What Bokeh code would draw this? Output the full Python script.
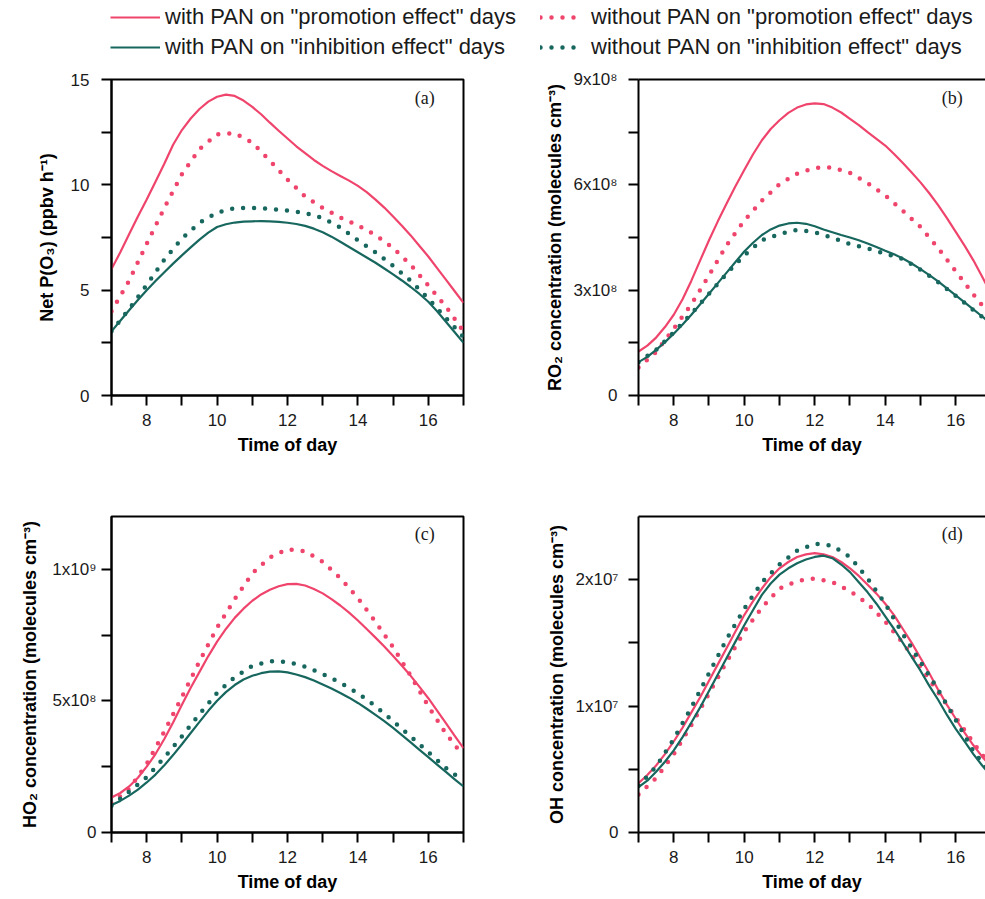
from bokeh.plotting import figure
from bokeh.models import Range1d, FixedTicker, LinearAxis, Label, Legend, LegendItem
from bokeh.layouts import column, row
from bokeh.core.properties import value
from bokeh.embed import file_html
from bokeh.resources import INLINE

# ---------------- data ----------------
# solid curves are read every quarter hour, dotted curves every half hour
hours_fine = [7.0, 7.25, 7.5, 7.75, 8.0, 8.25, 8.5, 8.75, 9.0, 9.25, 9.5, 9.75, 10.0, 10.25,
              10.5, 10.75, 11.0, 11.25, 11.5, 11.75, 12.0, 12.25, 12.5, 12.75, 13.0, 13.25,
              13.5, 13.75, 14.0, 14.25, 14.5, 14.75, 15.0, 15.25, 15.5, 15.75, 16.0, 16.25,
              16.5, 16.75, 17.0]
hours = [7.0, 7.5, 8.0, 8.5, 9.0, 9.5, 10.0, 10.5, 11.0, 11.5, 12.0,
         12.5, 13.0, 13.5, 14.0, 14.5, 15.0, 15.5, 16.0, 16.5, 17.0]

series_labels = ['with PAN on "promotion effect" days',
                 'without PAN on "promotion effect" days',
                 'with PAN on "inhibition effect" days',
                 'without PAN on "inhibition effect" days']

# (a) Net P(O3), ppbv h-1
po3_pan_promo = [6.0, 6.8, 7.65, 8.5, 9.3, 10.15, 11.0, 11.9, 12.6, 13.15, 13.6, 13.95, 14.18, 14.28,
                 14.22, 14.0, 13.7, 13.35, 12.95, 12.57, 12.2, 11.83, 11.5, 11.18, 10.9, 10.65,
                 10.42, 10.2, 9.95, 9.65, 9.3, 8.92, 8.5, 8.06, 7.6, 7.1, 6.6, 6.05, 5.5, 4.95, 4.4]
po3_nopan_promo = [4.0, 5.45, 7.2, 8.9, 10.5, 11.7, 12.4, 12.45, 12.0, 11.15, 10.25,
                   9.45, 8.9, 8.45, 8.08, 7.62, 7.0, 6.2, 5.22, 4.22, 3.05]
po3_pan_inhib = [3.05, 3.55, 4.05, 4.53, 5.0, 5.43, 5.85, 6.26, 6.65, 7.03, 7.4, 7.73, 8.0, 8.13,
                 8.21, 8.25, 8.27, 8.28, 8.27, 8.24, 8.2, 8.14, 8.05, 7.92, 7.75, 7.54,
                 7.3, 7.05, 6.8, 6.55, 6.3, 6.03, 5.75, 5.46, 5.15, 4.82, 4.45, 4.0, 3.5, 3.0, 2.5]
po3_nopan_inhib = [3.05, 4.1, 5.25, 6.45, 7.45, 8.2, 8.68, 8.9, 8.91, 8.86, 8.78,
                   8.67, 8.42, 7.98, 7.37, 6.8, 6.15, 5.45, 4.6, 3.68, 2.78]

# (b) RO2, molecules cm-3
ro2_pan_promo = [1.25e8, 1.42e8, 1.65e8, 1.95e8, 2.3e8, 2.74e8, 3.27e8, 3.85e8, 4.42e8, 4.96e8,
                 5.47e8, 5.96e8, 6.42e8, 6.87e8, 7.27e8, 7.59e8, 7.84e8, 8.05e8, 8.2e8, 8.29e8,
                 8.32e8, 8.3e8, 8.2e8, 8.06e8, 7.88e8, 7.7e8, 7.5e8, 7.31e8, 7.12e8, 6.88e8,
                 6.62e8, 6.35e8, 6.07e8, 5.76e8, 5.42e8, 5.05e8, 4.66e8, 4.27e8, 3.85e8, 3.38e8, 2.9e8]
ro2_nopan_promo = [0.8e8, 1.24e8, 1.9e8, 2.6e8, 3.42e8, 4.28e8, 4.98e8, 5.55e8, 6.02e8, 6.32e8, 6.48e8,
                   6.5e8, 6.34e8, 6.05e8, 5.7e8, 5.26e8, 4.8e8, 4.2e8, 3.54e8, 2.88e8, 2.25e8]
ro2_pan_inhib = [0.95e8, 1.1e8, 1.3e8, 1.52e8, 1.76e8, 2.02e8, 2.3e8, 2.6e8, 2.9e8, 3.2e8,
                 3.5e8, 3.8e8, 4.1e8, 4.35e8, 4.57e8, 4.73e8, 4.84e8, 4.9e8, 4.92e8, 4.89e8,
                 4.82e8, 4.73e8, 4.65e8, 4.57e8, 4.5e8, 4.42e8, 4.33e8, 4.23e8, 4.12e8, 4.02e8,
                 3.9e8, 3.76e8, 3.6e8, 3.43e8, 3.25e8, 3.05e8, 2.85e8, 2.65e8, 2.45e8, 2.25e8, 2.05e8]
ro2_nopan_inhib = [0.95e8, 1.3e8, 1.8e8, 2.33e8, 2.9e8, 3.47e8, 3.99e8, 4.42e8, 4.6e8, 4.72e8, 4.65e8,
                   4.49e8, 4.31e8, 4.19e8, 4.04e8, 3.89e8, 3.58e8, 3.23e8, 2.84e8, 2.43e8, 2.05e8]

# (c) HO2, molecules cm-3
ho2_pan_promo = [1.33e8, 1.5e8, 1.75e8, 2.08e8, 2.5e8, 2.98e8, 3.55e8, 4.18e8, 4.85e8, 5.5e8,
                 6.1e8, 6.7e8, 7.25e8, 7.73e8, 8.15e8, 8.5e8, 8.8e8, 9.04e8, 9.22e8, 9.35e8,
                 9.43e8, 9.44e8, 9.38e8, 9.25e8, 9.08e8, 8.86e8, 8.62e8, 8.35e8, 8.05e8, 7.73e8,
                 7.4e8, 7.06e8, 6.7e8, 6.33e8, 5.95e8, 5.53e8, 5.1e8, 4.63e8, 4.15e8, 3.67e8, 3.2e8]
ho2_nopan_promo = [1.1e8, 1.65e8, 2.6e8, 3.83e8, 5.15e8, 6.5e8, 7.78e8, 8.86e8, 9.84e8, 10.45e8, 10.76e8,
                   10.68e8, 10.28e8, 9.66e8, 8.9e8, 8.0e8, 7.04e8, 5.95e8, 4.8e8, 3.76e8, 2.9e8]
ho2_pan_inhib = [1.04e8, 1.2e8, 1.4e8, 1.63e8, 1.9e8, 2.2e8, 2.55e8, 2.94e8, 3.35e8, 3.78e8,
                 4.2e8, 4.62e8, 5.0e8, 5.33e8, 5.6e8, 5.81e8, 5.95e8, 6.05e8, 6.11e8, 6.12e8,
                 6.08e8, 6.0e8, 5.9e8, 5.77e8, 5.62e8, 5.47e8, 5.3e8, 5.12e8, 4.92e8, 4.7e8,
                 4.47e8, 4.23e8, 3.97e8, 3.7e8, 3.42e8, 3.14e8, 2.86e8, 2.58e8, 2.3e8, 2.02e8, 1.75e8]
ho2_nopan_inhib = [1.02e8, 1.55e8, 2.1e8, 2.85e8, 3.65e8, 4.5e8, 5.3e8, 5.9e8, 6.33e8, 6.51e8, 6.48e8,
                   6.3e8, 6.02e8, 5.69e8, 5.29e8, 4.8e8, 4.23e8, 3.65e8, 3.05e8, 2.45e8, 1.95e8]

# (d) OH, molecules cm-3
oh_pan_promo = [0.39e7, 0.455e7, 0.53e7, 0.62e7, 0.72e7, 0.83e7, 0.95e7, 1.07e7, 1.2e7, 1.33e7,
                1.46e7, 1.59e7, 1.72e7, 1.83e7, 1.93e7, 2.02e7, 2.09e7, 2.14e7, 2.18e7, 2.2e7,
                2.21e7, 2.2e7, 2.18e7, 2.14e7, 2.09e7, 2.03e7, 1.96e7, 1.89e7, 1.81e7, 1.72e7,
                1.61e7, 1.5e7, 1.38e7, 1.26e7, 1.13e7, 1.01e7, 0.9e7, 0.79e7, 0.69e7, 0.6e7, 0.52e7]
oh_nopan_promo = [0.3e7, 0.43e7, 0.62e7, 0.85e7, 1.1e7, 1.35e7, 1.59e7, 1.78e7, 1.93e7, 1.99e7, 2.01e7,
                  1.98e7, 1.91e7, 1.81e7, 1.67e7, 1.5e7, 1.31e7, 1.11e7, 0.91e7, 0.71e7, 0.52e7]
oh_pan_inhib = [0.36e7, 0.41e7, 0.48e7, 0.56e7, 0.65e7, 0.755e7, 0.87e7, 0.99e7, 1.12e7, 1.25e7,
                1.38e7, 1.51e7, 1.64e7, 1.76e7, 1.88e7, 1.97e7, 2.04e7, 2.09e7, 2.13e7, 2.16e7,
                2.18e7, 2.19e7, 2.17e7, 2.12e7, 2.06e7, 1.98e7, 1.9e7, 1.81e7, 1.71e7, 1.61e7,
                1.5e7, 1.39e7, 1.28e7, 1.16e7, 1.05e7, 0.93e7, 0.82e7, 0.72e7, 0.62e7, 0.53e7, 0.45e7]
oh_nopan_inhib = [0.37e7, 0.52e7, 0.74e7, 0.99e7, 1.26e7, 1.53e7, 1.77e7, 1.98e7, 2.12e7, 2.23e7, 2.285e7,
                  2.27e7, 2.18e7, 2.01e7, 1.81e7, 1.57e7, 1.35e7, 1.13e7, 0.89e7, 0.645e7, 0.46e7]

x_major = [8, 10, 12, 14, 16]
x_minor = [7, 9, 11, 13, 15, 17]

a_major = [0, 5, 10, 15]
a_minor = [2.5, 7.5, 12.5]
b_major = [0, 300000000, 600000000, 900000000]
b_minor = [150000000, 450000000, 750000000]
b_labels = {0: "0", 300000000: "3x10⁸", 600000000: "6x10⁸", 900000000: "9x10⁸"}
c_major = [0, 500000000, 1000000000]
c_minor = [250000000, 750000000]
c_labels = {0: "0", 500000000: "5x10⁸", 1000000000: "1x10⁹"}
d_major = [0, 10000000, 20000000]
d_minor = [5000000, 15000000]
d_labels = {0: "0", 10000000: "1x10⁷", 20000000: "2x10⁷"}

# ---------------- style ----------------
PINK = "#EF456D"
TEAL = "#17675F"
FONT = "Liberation Sans"
SERIF = "Liberation Serif"
TXT = "#1a1a1a"
DOT_DASH = "0 11"


def style_axis(ax, tick_standoff, label_standoff):
    ax.axis_line_width = 2
    ax.axis_line_color = "black"
    ax.major_tick_out = 10
    ax.major_tick_in = 0
    ax.minor_tick_out = 10
    ax.minor_tick_in = 0
    ax.major_tick_line_width = 2
    ax.minor_tick_line_width = 2
    ax.major_tick_line_color = "black"
    ax.minor_tick_line_color = "black"
    ax.major_label_text_font = FONT
    ax.major_label_text_font_size = "17px"
    ax.major_label_text_color = TXT
    ax.major_label_standoff = tick_standoff
    ax.axis_label_text_font = FONT
    ax.axis_label_text_font_size = "18px"
    ax.axis_label_text_font_style = "bold"
    ax.axis_label_text_color = "black"
    ax.axis_label_standoff = label_standoff


def draw_series(p, ys):
    colors = [PINK, PINK, TEAL, TEAL]
    dotted = [False, True, False, True]
    rs = []
    for y, c, d in zip(ys, colors, dotted):
        if d:
            rs.append(p.line(hours, y, line_color=c, line_width=4.5, line_dash=DOT_DASH,
                             line_cap="round", line_join="round"))
        else:
            rs.append(p.line(hours_fine, y, line_color=c, line_width=2.2, line_join="round"))
    return rs


def panel(width, height, borders, x_end, y_end, y_major, y_minor, y_labels, y_title,
          tag, tag_y, boxed, y_tick_standoff, y_label_standoff, ys):
    left, right, top, bottom = borders
    p = figure(width=width, height=height, x_range=Range1d(7, x_end), y_range=Range1d(0, y_end),
               output_backend="svg", toolbar_location=None,
               min_border_left=left, min_border_right=right,
               min_border_top=top, min_border_bottom=bottom)
    p.grid.visible = False

    xa = p.below[0]
    xa.ticker = FixedTicker(ticks=x_major, minor_ticks=x_minor)
    xa.axis_label = "Time of day"
    style_axis(xa, 8, 6)

    ya = p.left[0]
    ya.ticker = FixedTicker(ticks=y_major, minor_ticks=y_minor)
    if y_labels:
        ya.major_label_overrides = y_labels
    ya.axis_label = y_title
    style_axis(ya, y_tick_standoff, y_label_standoff)

    if boxed:
        p.outline_line_color = "black"
        p.outline_line_width = 2
        p.outline_line_alpha = 1
    else:
        p.outline_line_color = None
        top_ax = LinearAxis(ticker=FixedTicker(ticks=[]), major_label_text_font_size="0px",
                            major_tick_out=0, major_tick_in=0, minor_tick_out=0, minor_tick_in=0,
                            axis_line_width=2, axis_line_color="black")
        p.add_layout(top_ax, "above")

    draw_series(p, ys)

    p.add_layout(Label(x=15.9, y=tag_y, text=tag, text_font=SERIF, text_font_size="18px",
                       text_align="center", text_baseline="middle", text_color=TXT))
    return p


# page has no margin in Bokeh's template: lay out on the full 985 x 899 window
LEG_H = 66
TOP_H = 402
BOT_H = 431
LEFT_W = 528
RIGHT_W = 457
X_END_RIGHT = 16.844

pa = panel(LEFT_W, TOP_H, (111, 65, 13, 73), 17, 15, a_major, a_minor, None,
           "Net P(O₃) (ppbv h⁻¹)", "(a)", 14.1, True, 12, 11,
           [po3_pan_promo, po3_nopan_promo, po3_pan_inhib, po3_nopan_inhib])
pb = panel(RIGHT_W, TOP_H, (110, 0, 13, 73), X_END_RIGHT, 9e8, b_major, b_minor, b_labels,
           "RO₂ concentration (molecules cm⁻³)", "(b)", 8.46e8, False, 11, 5,
           [ro2_pan_promo, ro2_nopan_promo, ro2_pan_inhib, ro2_nopan_inhib])
pc = panel(LEFT_W, BOT_H, (111, 65, 48, 67), 17, 1.2e9, c_major, c_minor, c_labels,
           "HO₂ concentration (molecules cm⁻³)", "(c)", 1.135e9, True, 5, 9,
           [ho2_pan_promo, ho2_nopan_promo, ho2_pan_inhib, ho2_nopan_inhib])
pd_ = panel(RIGHT_W, BOT_H, (110, 0, 48, 67), X_END_RIGHT, 2.5e7, d_major, d_minor, d_labels,
            "OH concentration (molecules cm⁻³)", "(d)", 2.365e7, False, 10, 5,
            [oh_pan_promo, oh_nopan_promo, oh_pan_inhib, oh_nopan_inhib])

# ---------------- legend strip ----------------
# the strip re-draws panel (a) series outside its visible range so that the
# legend swatches have real renderers to sample
leg = figure(width=LEFT_W + RIGHT_W, height=LEG_H, x_range=Range1d(0, 1), y_range=Range1d(100, 101),
             output_backend="svg", toolbar_location=None, x_axis_type=None, y_axis_type=None,
             min_border=0)
leg.outline_line_color = None
leg.grid.visible = False
r1, r2, r3, r4 = draw_series(leg, [po3_pan_promo, po3_nopan_promo, po3_pan_inhib, po3_nopan_inhib])


def make_legend(items, loc, gw, standoff):
    return Legend(items=items, location=loc, orientation="vertical", glyph_width=gw,
                  glyph_height=22, label_height=22, label_standoff=standoff, spacing=4,
                  padding=0, margin=0, border_line_alpha=0, background_fill_alpha=0,
                  label_text_font=FONT, label_text_font_size="22px", label_text_color=TXT)


leg.add_layout(make_legend([LegendItem(label=value(series_labels[0]), renderers=[r1]),
                            LegendItem(label=value(series_labels[2]), renderers=[r3])],
                           (110, 6), 50, 5))
leg.add_layout(make_legend([LegendItem(label=value(series_labels[1]), renderers=[r2]),
                            LegendItem(label=value(series_labels[3]), renderers=[r4])],
                           (540, 6), 38, 13))

layout = column(leg, row(pa, pb), row(pc, pd_))

open("out.html", "w").write(file_html(layout, INLINE))
